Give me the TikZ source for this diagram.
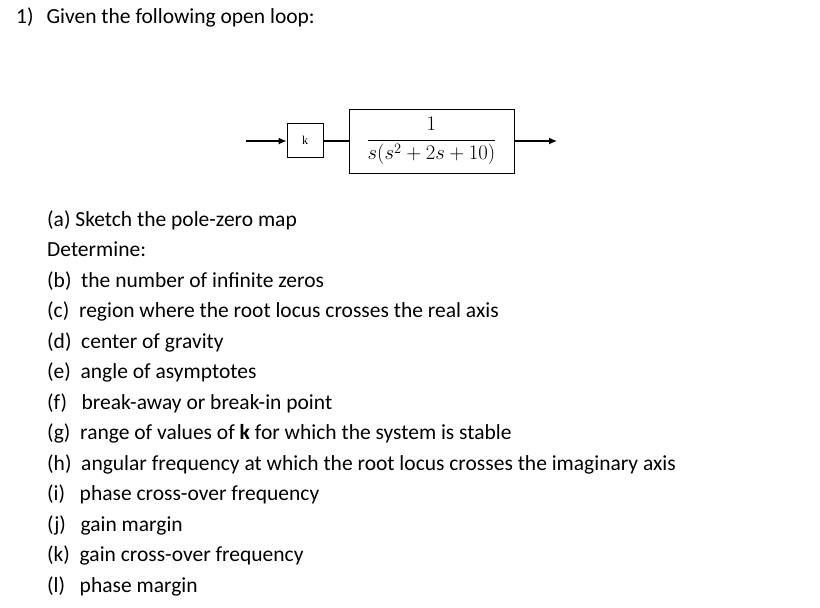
\documentclass[tikz,border=0pt]{standalone}
\usepackage{fontspec}
\setmainfont{Carlito}
\begin{document}
\begin{tikzpicture}[x=1pt,y=-1pt,
  txt/.style={anchor=base west,inner sep=0pt,font=\fontsize{21.5}{24}\selectfont},
  blk/.style={draw,line width=0.8pt,inner sep=0pt},
  wire/.style={line width=1.3pt},
  arr/.style={wire,-{Latex[length=8pt,width=7pt]}}]
\useasboundingbox (0,0) rectangle (820,608);
\usetikzlibrary{arrows.meta}
\node[txt] (title) at (16,23) {1)\hspace{13pt}Given the following open loop:};
\node[blk,minimum width=36pt,minimum height=34pt] (k) at (305,140) {\fontspec{Liberation Serif}\fontsize{12}{14}\selectfont k};
\node[blk,minimum width=165pt,minimum height=64pt] (g) at (431.5,141) {\fontsize{20.5}{24}\selectfont$\displaystyle\frac{1}{s(s^2+2s+10)}$};
\coordinate (in) at (246,141);
\coordinate (out) at (557,141);
\draw[arr] (in) -- (k.west|-in);
\draw[wire] (k.east|-in) -- (g.west|-in);
\draw[arr] (g.east|-out) -- (out);
\foreach \t [count=\i from 0] in {{(a) Sketch the pole-zero map},{Determine:},
 {(b)\ \ the number of infinite zeros},
 {(c)\ \ region where the root locus crosses the real axis},
 {(d)\ \ center of gravity},
 {(e)\ \ angle of asymptotes},
 {(f)\ \ \ break-away or break-in point},
 {(g)\ \ range of values of \textbf{k} for which the system is stable},
 {(h)\ \ angular frequency at which the root locus crosses the imaginary axis},
 {(i)\ \ \ phase cross-over frequency},
 {(j)\ \ \ gain margin},
 {(k)\ \ gain cross-over frequency},
 {(l)\ \ \ phase margin}}
 \node[txt] (it\i) at (47,{226+30.5*\i}) {\t};
\end{tikzpicture}
\end{document}
